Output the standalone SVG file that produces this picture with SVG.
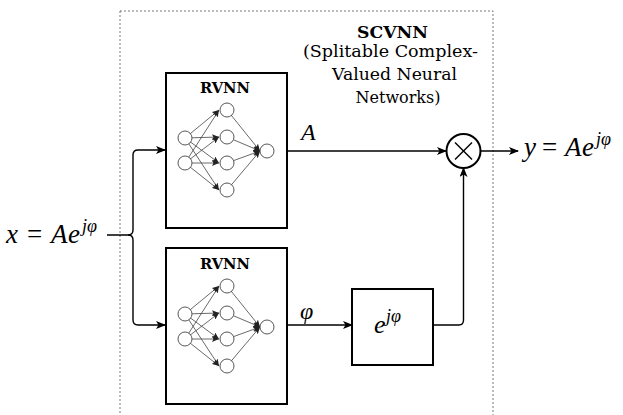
<svg xmlns="http://www.w3.org/2000/svg" width="623" height="415" viewBox="0 0 623 415">
<defs>
<marker id="ah" markerWidth="10" markerHeight="8" refX="9" refY="4" orient="auto" markerUnits="userSpaceOnUse">
<path d="M0,0 L10,4 L0,8 L2.5,4 Z" fill="#000"/>
</marker>
<marker id="sa" markerWidth="7" markerHeight="6" refX="7" refY="3" orient="auto" markerUnits="userSpaceOnUse">
<path d="M0,0 L7,3 L0,6 L1.5,3 Z" fill="#222"/>
</marker>
<g id="net">
<g class="nedge">
<line x1="185" y1="138" x2="219" y2="110"/>
<line x1="185" y1="138" x2="219" y2="137"/>
<line x1="185" y1="138" x2="219" y2="163"/>
<line x1="185" y1="138" x2="219" y2="190"/>
<line x1="185" y1="163" x2="219" y2="110"/>
<line x1="185" y1="163" x2="219" y2="137"/>
<line x1="185" y1="163" x2="219" y2="163"/>
<line x1="185" y1="163" x2="219" y2="190"/>
<line x1="227" y1="110" x2="260" y2="151"/>
<line x1="227" y1="137" x2="260" y2="151"/>
<line x1="227" y1="163" x2="260" y2="151"/>
<line x1="227" y1="190" x2="260" y2="151"/>
</g>
<circle class="neuron" cx="185" cy="138" r="7"/>
<circle class="neuron" cx="185" cy="163" r="7"/>
<circle class="neuron" cx="227" cy="110" r="7"/>
<circle class="neuron" cx="227" cy="137" r="7"/>
<circle class="neuron" cx="227" cy="163" r="7"/>
<circle class="neuron" cx="227" cy="190" r="7"/>
<circle class="neuron" cx="267" cy="151" r="7"/>
</g>
</defs>
<style>
.box{fill:#fff;stroke:#000;stroke-width:2}
.conn{fill:none;stroke:#000;stroke-width:1.4}
.nedge line{stroke:#444;stroke-width:0.8;marker-end:url(#sa)}
.neuron{fill:#fff;stroke:#444;stroke-width:0.9}
.serif{font-family:"DejaVu Serif","Liberation Serif",serif}
.math{font-family:"Liberation Serif","DejaVu Serif",serif;font-style:italic}
.mathr{font-family:"Liberation Serif","DejaVu Serif",serif}
</style>
<rect width="623" height="415" fill="#fff"/>
<g id="scvnn">
<rect x="120" y="11" width="373" height="420" fill="none" stroke="#555" stroke-width="0.8" stroke-dasharray="2,2"/>
<text class="serif" x="357" y="38" font-size="16" font-weight="bold" textLength="71" lengthAdjust="spacingAndGlyphs">SCVNN</text>
<text class="serif" x="303" y="57" font-size="16" textLength="175" lengthAdjust="spacingAndGlyphs">(Splitable Complex-</text>
<text class="serif" x="332" y="80" font-size="16" textLength="125" lengthAdjust="spacingAndGlyphs">Valued Neural</text>
<text class="serif" x="398" y="103" font-size="16" text-anchor="middle">Networks)</text>
</g>
<g id="rvnn1">
<rect class="box" x="166" y="73" width="121" height="155"/>
<text class="serif" x="200" y="93" font-size="14" font-weight="bold" textLength="50" lengthAdjust="spacingAndGlyphs">RVNN</text>
<use href="#net"/>
</g>
<g id="rvnn2">
<rect class="box" x="166" y="248" width="121" height="156"/>
<text class="serif" x="200" y="269" font-size="14" font-weight="bold" textLength="50" lengthAdjust="spacingAndGlyphs">RVNN</text>
<use href="#net" transform="translate(0,176)"/>
</g>
<g id="exp">
<rect class="box" x="352" y="289" width="81" height="76"/>
<text class="math"><tspan x="374" y="333" font-size="26">e</tspan><tspan x="386" y="322" font-size="18">jφ</tspan></text>
</g>
<g id="mult">
<circle cx="463.5" cy="151" r="17" fill="#fff" stroke="#000" stroke-width="2"/>
<line x1="455" y1="142.5" x2="472" y2="159.5" stroke="#000" stroke-width="1.5"/>
<line x1="472" y1="142.5" x2="455" y2="159.5" stroke="#000" stroke-width="1.5"/>
</g>
<g id="labels">
<text font-size="27"><tspan class="math" x="6" y="243">x</tspan><tspan class="mathr" x="27" y="243">=</tspan><tspan class="math" x="51" y="243">A</tspan><tspan class="math" x="68" y="243">e</tspan><tspan class="math" x="82" y="232" font-size="18">jφ</tspan></text>
<text font-size="27"><tspan class="math" x="524" y="156">y</tspan><tspan class="mathr" x="542" y="156">=</tspan><tspan class="math" x="565" y="156">A</tspan><tspan class="math" x="582" y="156">e</tspan><tspan class="math" x="596" y="145" font-size="18">jφ</tspan></text>
<text class="math" x="301" y="140" font-size="24">A</text>
<text class="math" x="300" y="319" font-size="24">φ</text>
</g>
<g id="connectors">
<path class="conn" d="M107,235 H128 Q133,235 133,230 V155 Q133,150 138,150 H165" marker-end="url(#ah)"/>
<path class="conn" d="M128,235 Q133,235 133,240 V320 Q133,325 138,325 H165" marker-end="url(#ah)"/>
<path class="conn" d="M288,151 H446" marker-end="url(#ah)"/>
<path class="conn" d="M288,325 H352" marker-end="url(#ah)"/>
<path class="conn" d="M433,325 H459 Q463.5,325 463.5,320 V168" marker-end="url(#ah)"/>
<path class="conn" d="M481,151 H518" marker-end="url(#ah)"/>
</g>
</svg>
